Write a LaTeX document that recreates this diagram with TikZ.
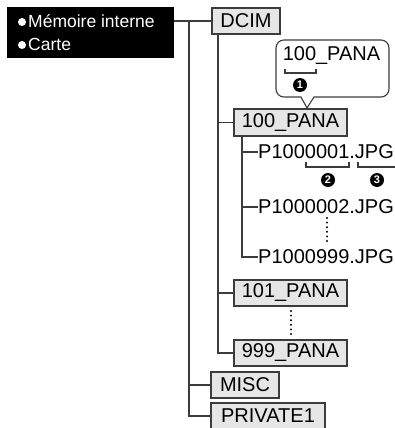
\documentclass[tikz,border=0pt]{standalone}
\usepackage{fontspec}
\setmainfont{Liberation Sans}
\definecolor{foldergray}{HTML}{E6E6E6}
\definecolor{wiregray}{HTML}{3C3C3C}

\begin{document}
\begin{tikzpicture}[
    x=1pt, y=-1pt,
    folder/.style={draw=wiregray, fill=foldergray, line width=1.2pt,
                   minimum height=26pt, inner sep=0pt,
                   font=\fontsize{20}{24}\selectfont},
    file/.style={anchor=west, inner sep=0pt, font=\fontsize{20}{24}\selectfont},
    media text/.style={anchor=west, inner sep=0pt, text=white,
                       font=\fontsize{17.5}{21}\selectfont},
    bullet/.style={circle, fill=white, inner sep=0pt, minimum size=8pt},
    wire/.style={draw=wiregray, line width=1.2pt},
    dots/.style={line width=2.2pt, line cap=round, dash pattern=on 0pt off 4.6pt},
    bracket/.style={draw=wiregray, line width=1.1pt},
    num/.style={circle, fill=black, text=white, inner sep=0pt,
                minimum size=14pt, font=\fontsize{11}{11}\bfseries}
  ]
    \useasboundingbox (0,0) rectangle (395,428);

    % storage media
    \node[fill=black, minimum width=167pt, minimum height=51pt, inner sep=0pt]
      (media) at (90.5,32.5) {};
    \node[bullet] (b1) at (22,22) {};
    \node[media text] (internal) at (28,21.5) {Mémoire interne};
    \node[bullet] (b2) at (22,45) {};
    \node[media text] (card) at (28,44.5) {Carte};

    % folders
    \node[folder, minimum width=68pt] (dcim) at (246,21) {DCIM};
    \node[folder, minimum width=113pt, minimum height=27pt] (p100) at (290.5,122.5) {100\_PANA};
    \node[folder, minimum width=113pt] (p101) at (290.5,293) {101\_PANA};
    \node[folder, minimum width=113pt] (p999) at (290.5,353) {999\_PANA};
    \node[folder, minimum width=68pt] (misc) at (245,385) {MISC};
    \node[folder, minimum width=114pt] (private) at (268,416) {PRIVATE1};

    % files
    \node[file] (f1) at (258,152) {P1000001.JPG};
    \node[file] (f2) at (258,207) {P1000002.JPG};
    \node[file] (f999) at (258,257) {P1000999.JPG};

    % tree
    \coordinate (root) at (189,21);
    \draw[wire] (media.east |- dcim.west) -- (dcim.west);
    \draw[wire] (root) |- (private.west);
    \draw[wire] (root |- misc.west) -- (misc.west);

    \coordinate (dcimroot) at ([xshift=-28pt]dcim.south);
    \draw[wire] (dcimroot) |- (p999.west);
    \draw[wire] (dcimroot |- p100.west) -- (p100.west);
    \draw[wire] (dcimroot |- p101.west) -- (p101.west);

    \coordinate (p100root) at ([xshift=-48.5pt]p100.south);
    \draw[wire] (p100root) |- (f999.west);
    \draw[wire] (p100root |- f1.west) -- (f1.west);
    \draw[wire] (p100root |- f2.west) -- (f2.west);

    \draw[dots] (327,218) -- (327,243);
    \draw[dots] (291,311) -- (291,336);

    % callout
    \coordinate (tip) at (307,108);
    \draw[wire, fill=white, line width=1.1pt] (301,97) [rounded corners=8pt] -- (276,97) -- (276,40)
      -- (389,40) -- (389,97) [sharp corners] -- (314,97) -- (tip) -- cycle;
    \node[font=\fontsize{20}{24}\selectfont, inner sep=0pt] (callout) at (331.5,56) {100\_PANA};
    \draw[bracket] (285,69) -- (285,73) -- (316,73) -- (316,69);
    \node[num] (n1) at (300,85) {1};

    % file name parts
    \draw[bracket] (306,162) -- (306,167) -- (349,167) -- (349,162);
    \draw[bracket] (358,162) -- (358,167) -- (397,167);
    \node[num] (n2) at (328,180) {2};
    \node[num] (n3) at (377,180) {3};
  \end{tikzpicture}
\end{document}
